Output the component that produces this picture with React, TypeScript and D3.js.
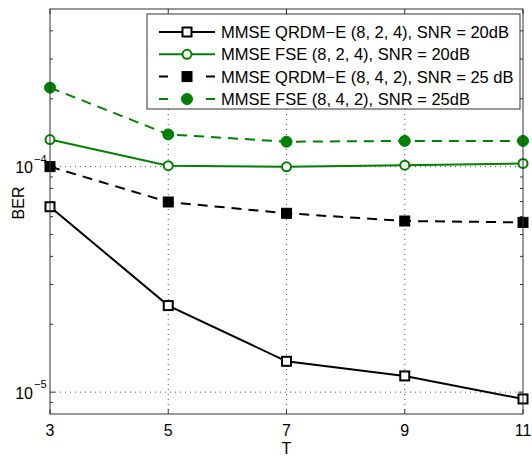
import React from "react";
import * as d3 from "d3";

const tValues = [3, 5, 7, 9, 11];
const xTickLabels = ["3", "5", "7", "9", "11"];
const qrdm20 = [6.64e-5, 2.42e-5, 1.37e-5, 1.18e-5, 9.33e-6];
const fse20 = [1.318e-4, 1.01e-4, 0.998e-4, 1.015e-4, 1.033e-4];
const qrdm25 = [1.0e-4, 6.97e-5, 6.21e-5, 5.74e-5, 5.66e-5];
const fse25 = [2.24e-4, 1.39e-4, 1.29e-4, 1.3e-4, 1.3e-4];
const seriesNames = [
  "MMSE QRDM\u2212E (8, 2, 4), SNR = 20dB",
  "MMSE FSE (8, 2, 4), SNR = 20dB",
  "MMSE QRDM\u2212E (8, 4, 2), SNR = 25 dB",
  "MMSE FSE (8, 4, 2), SNR = 25dB",
];
const yMajorTicks = [1e-5, 1e-4];
const yMajorExp = ["\u22125", "\u22124"];
const yMinorTicks = [9e-6, 2e-5, 3e-5, 4e-5, 5e-5, 6e-5, 7e-5, 8e-5, 9e-5, 2e-4, 3e-4, 4e-4];

const GREEN = "#008000";
const FONT = "'Liberation Sans', Arial, sans-serif";

const L = 50, R = 523, T = 9, B = 414;

type Series = { name: string; values: number[]; color: string; dash: string | null; marker: "sqOpen" | "circOpen" | "sqFill" | "circFill" };

const series: Series[] = [
  { name: seriesNames[0], values: qrdm20, color: "#000", dash: null, marker: "sqOpen" },
  { name: seriesNames[1], values: fse20, color: GREEN, dash: null, marker: "circOpen" },
  { name: seriesNames[2], values: qrdm25, color: "#000", dash: "10,7", marker: "sqFill" },
  { name: seriesNames[3], values: fse25, color: GREEN, dash: "10,7", marker: "circFill" },
];

function Marker({ kind, x, y, color }: { kind: Series["marker"]; x: number; y: number; color: string }) {
  if (kind === "sqOpen") return <rect x={x - 4.5} y={y - 4.5} width={9} height={9} fill="#fff" stroke={color} strokeWidth={2} />;
  if (kind === "sqFill") return <rect x={x - 5} y={y - 5} width={10} height={10} fill={color} stroke={color} strokeWidth={1} />;
  if (kind === "circOpen") return <circle cx={x} cy={y} r={4.5} fill="#fff" stroke={color} strokeWidth={2} />;
  return <circle cx={x} cy={y} r={5.5} fill={color} stroke={color} strokeWidth={1} />;
}

export default function App() {
  const x = d3.scaleLinear().domain([3, 11]).range([L, R]);
  const y = d3.scaleLog().domain([8e-6, 5e-4]).range([B, T]);
  const line = d3.line<number>().x((_, i) => x(tValues[i])).y((d) => y(d));
  const axisColor = "#333";

  const legX = 147, legY = 14, legW = 373, legH = 95;
  const rowY = [32, 54.3, 76.6, 99];

  return (
    <svg width={532} height={456} style={{ position: "absolute", left: 0, top: 0, background: "#fff" }} fontFamily={FONT}>
      <rect x={0} y={0} width={532} height={456} fill="#fff" />
      {/* grid */}
      {tValues.slice(1, -1).map((t) => (
        <line key={"gx" + t} x1={x(t)} x2={x(t)} y1={T} y2={B} stroke="#555" strokeWidth={1} strokeDasharray="1,4" />
      ))}
      {yMajorTicks.map((v) => (
        <line key={"gy" + v} x1={L} x2={R} y1={y(v)} y2={y(v)} stroke="#555" strokeWidth={1} strokeDasharray="1,4" />
      ))}
      {/* ticks */}
      {tValues.map((t) => (
        <g key={"tx" + t}>
          <line x1={x(t)} x2={x(t)} y1={B} y2={B - 5} stroke={axisColor} />
          <line x1={x(t)} x2={x(t)} y1={T} y2={T + 5} stroke={axisColor} />
        </g>
      ))}
      {yMinorTicks.map((v) => (
        <g key={"ym" + v}>
          <line x1={L} x2={L + 3} y1={y(v)} y2={y(v)} stroke={axisColor} />
          <line x1={R} x2={R - 3} y1={y(v)} y2={y(v)} stroke={axisColor} />
        </g>
      ))}
      {yMajorTicks.map((v) => (
        <g key={"yM" + v}>
          <line x1={L} x2={L + 5} y1={y(v)} y2={y(v)} stroke={axisColor} />
          <line x1={R} x2={R - 5} y1={y(v)} y2={y(v)} stroke={axisColor} />
        </g>
      ))}
      {/* series */}
      {series.map((s) => (
        <path key={s.name} d={line(s.values) || ""} fill="none" stroke={s.color} strokeWidth={2} strokeDasharray={s.dash || undefined} />
      ))}
      {series.map((s) => (
        <g key={"m" + s.name}>
          {s.values.map((v, i) => (
            <Marker key={i} kind={s.marker} x={x(tValues[i])} y={y(v)} color={s.color} />
          ))}
        </g>
      ))}
      {/* axes box */}
      <rect x={L} y={T} width={R - L} height={B - T} fill="none" stroke={axisColor} strokeWidth={1} />
      {/* x tick labels */}
      {tValues.map((t, i) => (
        <text key={"xl" + t} x={x(t)} y={436} textAnchor="middle" fontSize={16} fill="#000">
          {xTickLabels[i]}
        </text>
      ))}
      <text x={(L + R) / 2} y={454} textAnchor="middle" fontSize={16} fill="#000">T</text>
      {/* y tick labels */}
      {yMajorTicks.map((v, i) => (
        <g key={"yl" + v}>
          <text x={33} y={y(v) + 6.5} textAnchor="end" fontSize={16} fill="#000">10</text>
          <text x={34} y={y(v) - 4} textAnchor="start" fontSize={11} fill="#000">{yMajorExp[i]}</text>
        </g>
      ))}
      <text transform={`translate(24,203) rotate(-90)`} textAnchor="middle" fontSize={16} fill="#000">BER</text>
      {/* legend */}
      <rect x={legX} y={legY} width={legW} height={legH} fill="#fff" stroke={axisColor} strokeWidth={1} />
      {series.map((s, i) => (
        <g key={"lg" + s.name}>
          <line x1={159} x2={215} y1={rowY[i]} y2={rowY[i]} stroke={s.color} strokeWidth={2} strokeDasharray={s.dash ? "9,38" : undefined} />
          <Marker kind={s.marker} x={187} y={rowY[i]} color={s.color} />
          <text x={221} y={rowY[i] + 6} fontSize={16.5} fill="#000">{s.name}</text>
        </g>
      ))}
    </svg>
  );
}
